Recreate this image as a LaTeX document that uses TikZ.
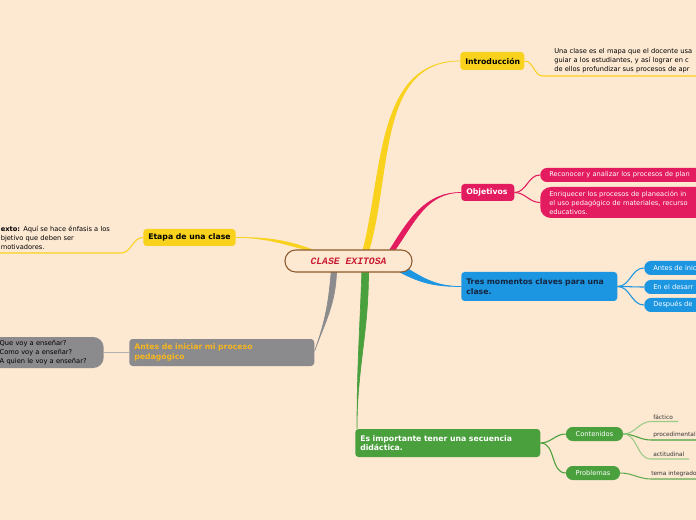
\documentclass[tikz,border=0pt]{standalone}
\usepackage{fontspec}
\setmainfont{DejaVu Sans}
\newfontfamily\titlefont{Liberation Mono}
\usetikzlibrary{positioning}

\definecolor{bgpeach}{HTML}{FDE8D2}
\definecolor{clsyellow}{HTML}{F9D21E}
\definecolor{clspink}{HTML}{E31B5F}
\definecolor{clsblue}{HTML}{1D96E2}
\definecolor{clsgreen}{HTML}{4BA03E}
\definecolor{clsgrey}{HTML}{8B8B8E}
\definecolor{lightgreen}{HTML}{9CCB86}
\definecolor{lightgrey}{HTML}{B3B0AD}
\definecolor{brownline}{HTML}{8C5A2C}
\definecolor{redtext}{HTML}{C81930}
\definecolor{navytext}{HTML}{14243E}
\definecolor{orangetext}{HTML}{F7B51E}
\definecolor{darktext}{HTML}{333333}

\tikzset{
  topic/.style={rounded corners=2.5pt, inner xsep=3.75pt, inner ysep=0pt, anchor=west,
    align=left, font=\fontsize{5.8}{7.2}\selectfont\bfseries},
  subtopic/.style={rounded corners=5pt, inner xsep=6.75pt, inner ysep=0pt, anchor=west,
    align=left, text=white, minimum height=10.5pt, font=\fontsize{5}{6.75}\selectfont},
  note/.style={inner sep=0pt, anchor=west, align=left, text=black,
    font=\fontsize{5}{6.75}\selectfont},
  leaf/.style={inner sep=0pt, anchor=south west, text=darktext,
    font=\fontsize{4.4}{5}\selectfont},
  branch/.style={line width=0.5pt},
  twig/.style={line width=0.8pt}
}

\begin{document}
\begin{tikzpicture}[x=0.75pt,y=-0.75pt]
\useasboundingbox (0,0) rectangle (696,520);
\clip (0,0) rectangle (696,520);
\fill[bgpeach] (0,0) rectangle (696,520);

% center
\node[inner sep=0pt, minimum width=95.25pt, minimum height=16.5pt] (ctr) at (348.5,261) {};

% main topics
\node[topic, fill=clsyellow, text=black, text width=40.5pt, minimum height=13.5pt] (intro) at (460,61) {Introducción};
\node[topic, fill=clspink, text=white, text width=32.25pt, minimum height=12.75pt] (obj) at (461,192.5) {Objetivos};
\node[topic, fill=clsblue, text=navytext, text width=109.5pt, minimum height=21.75pt] (tres) at (461,286.5) {Tres momentos claves para una\\clase.};
\node[topic, fill=clsgreen, text=white, text width=131.25pt, minimum height=21pt] (secu) at (355,443) {Es importante tener una secuencia\\didáctica.};
\node[topic, fill=clsgrey, text=orangetext, text width=131.25pt, minimum height=20.25pt] (antes) at (129,352.5) {Antes de iniciar mi proceso\\pedagógico};
\node[topic, fill=clsyellow, text=black, minimum width=67.5pt, minimum height=12.75pt] (etapa) at (143,237.5) {Etapa de una clase};

% sub topics
\node[subtopic, fill=clspink, text width=150pt] (reco) at (540,175) {Reconocer y analizar los procesos de plan};
\node[subtopic, fill=clspink, text width=150pt, minimum height=23.25pt, rounded corners=8pt] (enri) at (540,202.5) {Enriquecer los procesos de planeación in\\el uso pedagógico de materiales, recurso\\educativos.};
\node[subtopic, fill=clsblue, text width=80pt] (mom1) at (644,268) {Antes de inic};
\node[subtopic, fill=clsblue, text width=80pt] (mom2) at (644,287) {En el desarr};
\node[subtopic, fill=clsblue, text width=80pt] (mom3) at (644,305) {Después de};
\node[subtopic, fill=clsgreen, anchor=center, align=center, inner xsep=0pt, minimum width=42.75pt] (cont) at (594.5,434) {Contenidos};
\node[subtopic, fill=clsgreen, anchor=center, align=center, inner xsep=0pt, minimum width=40.5pt] (prob) at (593,473) {Problemas};
\node[subtopic, fill=clsgrey, text=black, anchor=east, inner xsep=7.5pt, text width=70.5pt, minimum height=23.25pt, rounded corners=8pt] (preg) at (104,352.5) {Que voy a enseñar?\\Como voy a enseñar?\\A quien le voy a enseñar?};

% notes
\node[note, text width=200pt] (introtxt) at (554,61) {Una clase es el mapa que el docente usa\\guiar a los estudiantes, y así lograr en c\\de ellos profundizar sus procesos de apr};
\node[note, text width=100pt] (etapatxt) at (0.5,237.5) {\textbf{exto:} Aquí se hace énfasis a los\\bjetivo que deben ser\\motivadores.};
\node[leaf] (fact) at (653,419.5) {fáctico};
\node[leaf] (proc) at (653,438) {procedimental};
\node[leaf] (acti) at (653,457) {actitudinal};
\node[leaf] (tema) at (651,477) {tema integrado};

% free ends
\coordinate (introA) at (543,76);
\coordinate (introB) at (700,76);
\coordinate (etapaA) at (121,253);
\coordinate (etapaB) at (-5,253);
\coordinate (factA) at (651,421.5);
\coordinate (factB) at (678,421.5);
\coordinate (procA) at (651,440);
\coordinate (procB) at (700,440);
\coordinate (actiA) at (651,459);
\coordinate (actiB) at (689,459);
\coordinate (temaA) at (651,479);
\coordinate (temaB) at (700,479);

% main branches
\filldraw[clsyellow, branch] ([xshift=11pt]ctr.north) to[out=76,in=180] (intro.west)
  to[out=180,in=74] ([xshift=15.5pt]ctr.north) -- cycle;
\filldraw[clspink, branch] ([xshift=31pt]ctr.north) to[out=58,in=180] (obj.west)
  to[out=180,in=55] ([xshift=35pt]ctr.north) -- cycle;
\filldraw[clsblue, branch] ([xshift=-9pt]ctr.south east) to[out=-28,in=180] (tres.west)
  to[out=180,in=-32] ([xshift=-4pt,yshift=3pt]ctr.south east) -- cycle;
\filldraw[clsgreen, branch] ([xshift=10pt]ctr.south) to[out=-92,in=90] ([xshift=1.5pt]secu.north west)
  to[out=90,in=-90] ([xshift=15pt]ctr.south) -- cycle;
\filldraw[clsgrey, branch] ([xshift=-13pt]ctr.south) to[out=-95,in=70] ([yshift=1pt]antes.east)
  to[out=70,in=-92] ([xshift=-9pt]ctr.south) -- cycle;
\filldraw[clsyellow, branch] ([xshift=-32pt]ctr.north) to[out=165,in=0] (etapa.east)
  to[out=0,in=160] ([xshift=-27pt]ctr.north) -- cycle;
\node[draw=brownline, line width=0.8pt, fill=bgpeach, rounded corners=8pt, minimum width=95.25pt,
  minimum height=16.5pt, inner sep=0pt, text=redtext, font=\titlefont\itshape\bfseries\fontsize{7.3}{8}\selectfont]
  (ctrtxt) at (ctr) {CLASE EXITOSA};

% twigs
\draw[clsyellow, twig] (intro.east) to[out=0,in=180] (introA) -- (introB);
\draw[clspink, twig] (obj.east) to[out=0,in=180] (reco.west);
\draw[clspink, twig] (obj.east) to[out=0,in=180] (enri.west);
\draw[clsblue, twig] (tres.east) to[out=0,in=180] (mom1.west);
\draw[clsblue, twig] (tres.east) to[out=0,in=180] (mom2.west);
\draw[clsblue, twig] (tres.east) to[out=0,in=180] (mom3.west);
\draw[clsgreen, twig] (secu.east) to[out=0,in=180] (cont.west);
\draw[clsgreen, twig] (secu.east) to[out=0,in=180] (prob.west);
\draw[lightgreen, twig] (cont.east) to[out=0,in=180] (factA) -- (factB);
\draw[clsgreen, twig] (cont.east) to[out=0,in=180] (procA) -- (procB);
\draw[lightgreen, twig] (cont.east) to[out=0,in=180] (actiA) -- (actiB);
\draw[clsgreen!70!lightgreen, twig] (prob.east) to[out=0,in=180] (temaA) -- (temaB);
\draw[clsyellow, twig] (etapa.west) to[out=180,in=0] (etapaA) -- (etapaB);
\draw[lightgrey, twig] (antes.west) -- (preg.east);
\end{tikzpicture}
\end{document}
